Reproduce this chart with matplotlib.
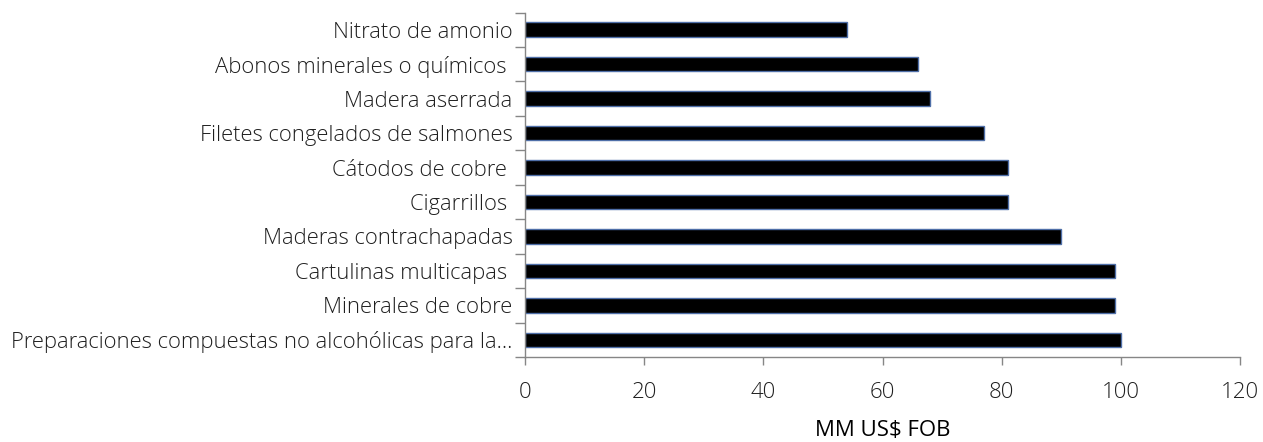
import numpy as np
import matplotlib.pyplot as plt
from matplotlib.ticker import FixedLocator

plt.rcParams['font.family'] = ['Open Sans', 'DejaVu Sans']

productos = ['Nitrato de amonio', 'Abonos minerales o químicos ', 'Madera aserrada',
             'Filetes congelados de salmones', 'Cátodos de cobre ', 'Cigarrillos ',
             'Maderas contrachapadas', 'Cartulinas multicapas ', 'Minerales de cobre',
             'Preparaciones compuestas no alcohólicas para la...']
valores = [54, 66, 68, 77, 81, 81, 90, 99, 99, 100]
x_ticks = [0, 20, 40, 60, 80, 100, 120]

text_col = '#1f1f1f'
axis_col = '#868686'

fig = plt.figure(figsize=(12.63, 4.42), dpi=100)
ax = fig.add_axes([0.4157, 0.1923, 0.5661, 0.7794])

y = np.arange(len(productos))
ax.barh(y, valores, height=0.42, color='black', edgecolor='#4F6FA8', linewidth=1.0)
ax.set_ylim(len(productos) - 0.5, -0.5)
ax.set_xlim(0, 120)

ax.set_yticks(y)
ax.set_yticklabels(productos, fontsize=15.8, color=text_col, fontweight='light')
ax.yaxis.set_minor_locator(FixedLocator(np.arange(-0.5, len(productos), 1)))
ax.tick_params(axis='y', which='major', length=0, pad=9)
ax.tick_params(axis='y', which='minor', length=7, color=axis_col, width=1)

ax.set_xticks(x_ticks)
ax.set_xticklabels([str(v) for v in x_ticks], fontsize=16, color=text_col, fontweight='light')
ax.tick_params(axis='x', length=6, color=axis_col, width=1, pad=12)
ax.set_xlabel('MM US$ FOB', fontsize=16, color='black', labelpad=12)

for s in ['top', 'right']:
    ax.spines[s].set_visible(False)
for s in ['left', 'bottom']:
    ax.spines[s].set_color(axis_col)
    ax.spines[s].set_linewidth(1)

fig.savefig('out.png', dpi=100)
